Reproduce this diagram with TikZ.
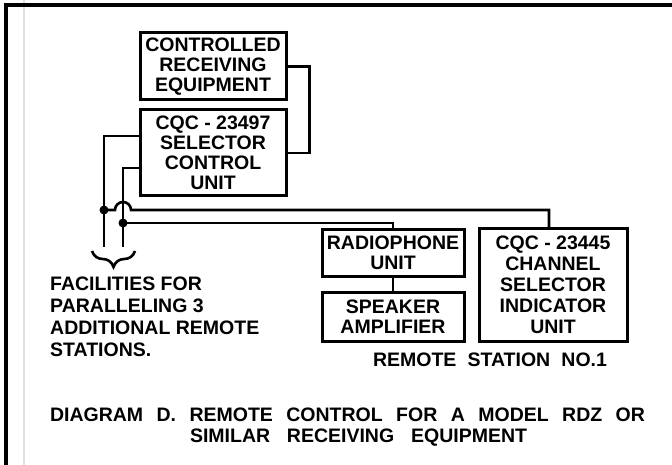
\documentclass[tikz,border=0pt]{standalone}
\usepackage{fontspec}
\setmainfont{Liberation Sans}
\usetikzlibrary{decorations.pathreplacing}
\tikzset{
  unitbox/.style={draw, line width=3pt, inner sep=0pt, align=center,
    font=\bfseries\fontsize{19.5pt}{20pt}\selectfont},
  wire/.style={line width=2.6pt},
  jdot/.style={fill=black},
  plaintext/.style={inner sep=0pt, font=\bfseries\fontsize{19.5pt}{22pt}\selectfont},
  frameline/.style={line width=3.5pt},
}
\begin{document}
\begin{tikzpicture}[x=1pt,y=-1pt]
\useasboundingbox (0,0) rectangle (672,465);
% frame
\draw[black!12, line width=1.5pt] (24,0) -- (24,465);
\draw[frameline] (6,465) -- (6,5) -- (672,5);

% units
\node[unitbox, minimum width=146pt, minimum height=67pt] (recv) at (213,66.5)
  {CONTROLLED\\RECEIVING\\EQUIPMENT};
\node[unitbox, minimum width=146pt, minimum height=86pt] (sel) at (213,153)
  {CQC - 23497\\SELECTOR\\CONTROL\\UNIT};
\node[unitbox, minimum width=142pt, minimum height=46pt] (radio) at (393,253)
  {RADIOPHONE\\UNIT};
\node[unitbox, minimum width=142pt, minimum height=49pt] (spk) at (393,316.5)
  {SPEAKER\\AMPLIFIER};
\node[unitbox, minimum width=148pt, minimum height=112pt,
  font=\bfseries\fontsize{19.5pt}{21pt}\selectfont] (ind) at (553,285)
  {CQC - 23445\\CHANNEL\\SELECTOR\\INDICATOR\\UNIT};

% connectors
\draw[wire] (recv.east) -- ++(22,0) |- (sel.east);
\coordinate (a1) at (104,247);
\coordinate (a2) at (123,247);
\coordinate (j1) at (104,210);
\coordinate (j2) at (123,223);
\draw[wire] ([yshift=17pt]sel.west) -| (a1);
\draw[wire] ([yshift=-15pt]sel.west) -| (a2);
\draw[wire] (j1) -- (115,210) arc[start angle=180, end angle=0, radius=8pt]
  -- (549,210) -- ([xshift=-4pt]ind.north);
\draw[wire] (j2) -| (radio.north);
\draw[wire] (radio.south) -- (spk.north);
\fill[jdot] (j1) circle (4.5pt);
\fill[jdot] (j2) circle (4.5pt);

% brace
\draw[wire, decorate, decoration={brace, amplitude=16pt, mirror}]
  (92,251) -- (135,251);

% texts
\node[plaintext, anchor=north west, align=left] (fac) at (50,277)
  {FACILITIES FOR\\PARALLELING 3\\ADDITIONAL REMOTE\\STATIONS.};
\node[plaintext, anchor=base] (rs) at (490,366)
  {\makebox[234pt][s]{REMOTE STATION NO.1}};
\node[plaintext, anchor=base] (t1) at (347.5,421)
  {\makebox[595pt][s]{DIAGRAM D. REMOTE CONTROL FOR A MODEL RDZ OR}};
\node[plaintext, anchor=base] (t2) at (358.5,442)
  {\makebox[337pt][s]{SIMILAR RECEIVING EQUIPMENT}};
\end{tikzpicture}
\end{document}
